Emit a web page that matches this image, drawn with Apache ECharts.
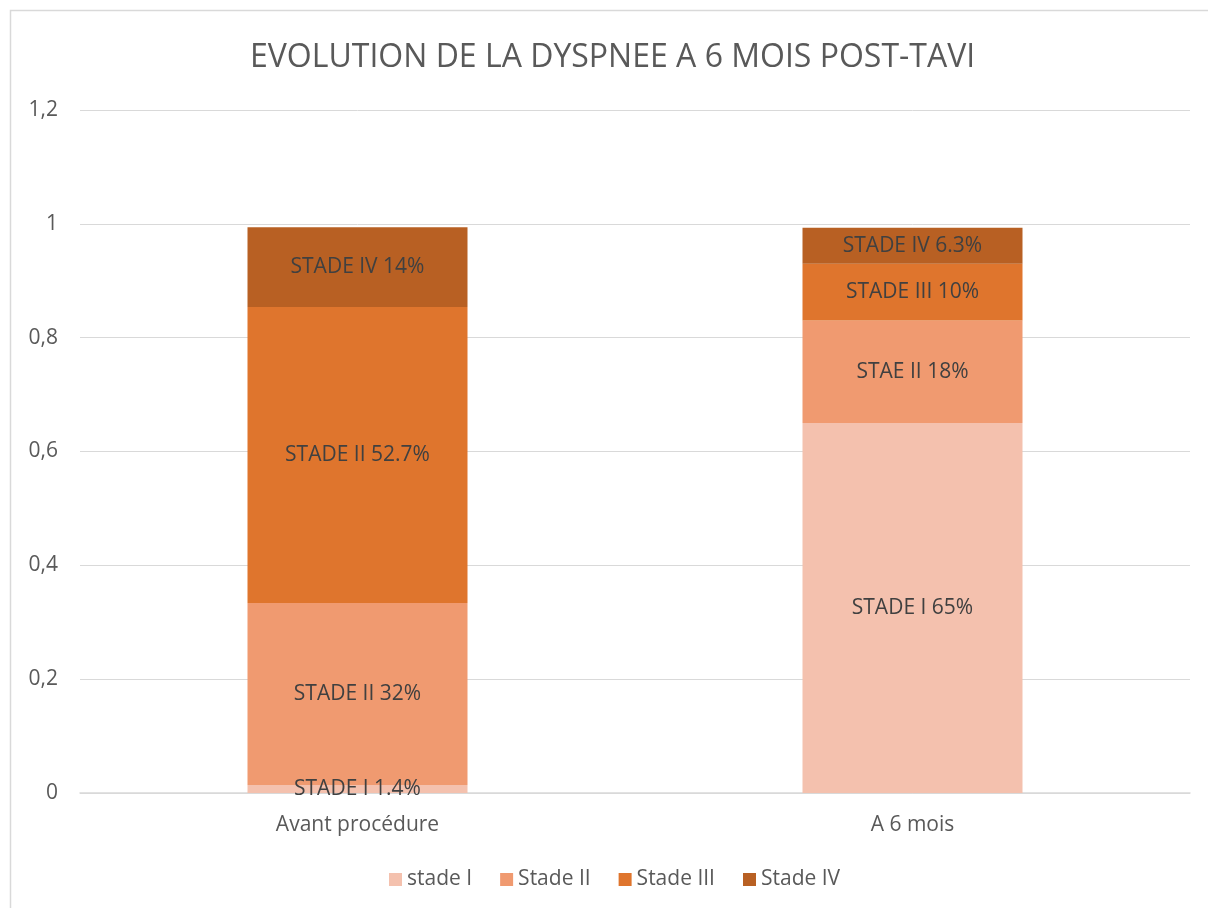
<!DOCTYPE html>
<html>
<head>
<meta charset="utf-8">
<script src="https://cdn.jsdelivr.net/npm/echarts@6/dist/echarts.min.js"></script>
<style>
html,body{margin:0;padding:0;background:#fff;}
#chart{width:1208px;height:908px;}
</style>
</head>
<body>
<div id="chart"></div>
<script>
var titleText = 'EVOLUTION DE LA DYSPNEE A 6 MOIS POST-TAVI';
var categories = ['Avant procédure', 'A 6 mois'];
var seriesNames = ['stade I', 'Stade II', 'Stade III', 'Stade IV'];
var stadeI = [0.014, 0.65];
var stadeII = [0.32, 0.18];
var stadeIII = [0.52, 0.10];
var stadeIV = [0.14, 0.063];
var labelsI = ['STADE I 1.4%', 'STADE I 65%'];
var labelsII = ['STADE II 32%', 'STAE II 18%'];
var labelsIII = ['STADE II 52.7%', 'STADE III 10%'];
var labelsIV = ['STADE IV 14%', 'STADE IV 6.3%'];
var yTicks = [0, 0.2, 0.4, 0.6, 0.8, 1, 1.2];

var colors = ['#F4C1AE', '#F09A70', '#DF752D', '#B86023'];
var FONT = '"Open Sans", sans-serif';

function mk(name, vals, labels, color) {
  return {
    name: name,
    type: 'bar',
    stack: 'total',
    barWidth: 220,
    itemStyle: { color: color },
    label: {
      show: true,
      position: 'inside',
      color: '#404040',
      fontFamily: FONT,
      fontSize: 21,
      formatter: function (p) { return labels[p.dataIndex]; }
    },
    data: vals
  };
}

var chart = echarts.init(document.getElementById('chart'));
chart.setOption({
  animation: false,
  color: colors,
  graphic: [{
    type: 'rect',
    shape: { x: 10.5, y: 10.5, width: 1300, height: 1000 },
    style: { fill: 'none', stroke: '#d9d9d9', lineWidth: 1.5 },
    z: -1
  }],
  title: {
    text: titleText,
    left: 250,
    top: 42,
    padding: 0,
    textStyle: { fontFamily: FONT, fontWeight: 'normal', fontSize: 32, color: '#595959' }
  },
  legend: {
    top: 869,
    left: 389,
    padding: 0,
    itemWidth: 13,
    itemHeight: 13,
    itemGap: 28,
    icon: 'rect',
    textStyle: { fontFamily: FONT, fontSize: 21, color: '#595959' },
    data: seriesNames
  },
  grid: { left: 80, right: 18, top: 110, bottom: 115 },
  xAxis: {
    type: 'category',
    data: categories,
    axisTick: { show: false },
    axisLine: { lineStyle: { color: '#d9d9d9', width: 1.5 } },
    axisLabel: { fontFamily: FONT, fontSize: 21, color: '#595959', margin: 22 }
  },
  yAxis: {
    type: 'value',
    min: 0,
    max: 1.2,
    interval: 0.2,
    axisLine: { show: false },
    axisTick: { show: false },
    splitLine: { lineStyle: { color: '#d9d9d9', width: 1 } },
    axisLabel: {
      fontFamily: FONT, fontSize: 21, color: '#595959', margin: 22,
      formatter: function (v) {
        var t = yTicks.reduce(function (a, b) { return Math.abs(b - v) < Math.abs(a - v) ? b : a; });
        return String(Math.round(t * 10) / 10).replace('.', ',');
      }
    }
  },
  series: [
    mk(seriesNames[0], stadeI, labelsI, colors[0]),
    mk(seriesNames[1], stadeII, labelsII, colors[1]),
    mk(seriesNames[2], stadeIII, labelsIII, colors[2]),
    mk(seriesNames[3], stadeIV, labelsIV, colors[3])
  ]
});
</script>
</body>
</html>
